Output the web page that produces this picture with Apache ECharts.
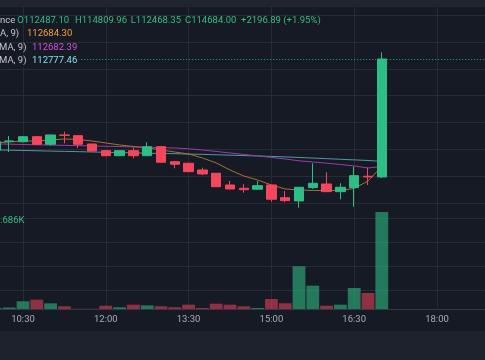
<!DOCTYPE html>
<html><head><meta charset="utf-8">
<script src="https://cdn.jsdelivr.net/npm/echarts@6/dist/echarts.min.js"></script>
<style>html,body{margin:0;padding:0;background:#161a25;overflow:hidden}#c{width:485px;height:360px}</style>
</head><body><div id="c"></div>
<script>
// ---- data (15-minute candles) ----
const times = ['10:00','10:15','10:30','10:45','11:00','11:15','11:30','11:45','12:00','12:15','12:30','12:45','13:00','13:15','13:30','13:45','14:00','14:15','14:30','14:45','15:00','15:15','15:30','15:45','16:00','16:15','16:30','16:45','17:00'];
// [open, close, low, high]
const ohlc = [
  [112990,113144,112975,113155],[113150,113157,112952,113250],[113144,113237,113130,113245],[113237,113096,113085,113245],
  [113096,113269,113070,113275],[113269,113262,113114,113330],[113256,113096,113027,113262],[113101,112971,112960,113105],
  [112977,112883,112875,112980],[112883,112977,112875,112985],[112977,112883,112835,113032],[112883,113051,112880,113133],
  [113051,112761,112755,113055],[112772,112723,112649,112775],[112742,112586,112580,112745],[112617,112543,112524,112660],
  [112556,112306,112300,112560],[112338,112263,112255,112412],[112276,112250,112194,112351],[112258,112325,112250,112412],
  [112338,112072,112027,112340],[112101,112046,112016,112226],[112040,112295,111915,112300],[112288,112369,112263,112742],
  [112356,112213,112205,112574],[112213,112295,112072,112369],[112288,112511,111934,112679],[112500,112487.11,112338,112660],
  [112487.10,114684.00,112468.35,114809.96]
];
const volumes = [17,26,134,162,99,47,4,4,57,30,75,63,47,30,75,17,92,75,47,17,174,99,742,405,57,75,365,278,1686];
const maOrange = [113120,113139,113157,113157,113176,113194,113185,113157,113120,113083,113055,113027,112990,112952,112915,112841,112748,112617,112505,112431,112338,112263,112245,112235,112235,112235,112273,112412,112684.30];
const maMagenta = [113103,113098,113092,113086,113081,113075,113070,113064,113058,113053,113047,113042,113034,113027,113012,112990,112962,112934,112906,112878,112850,112822,112788,112766,112744,112720,112692,112654,112682.39];
const maCyan = [112991,112986,112980,112975,112969,112964,112958,112952,112947,112941,112936,112930,112924,112921,112913,112908,112900,112893,112885,112878,112870,112861,112850,112839,112828,112816,112805,112794,112777.46];
const tickLabels = ['09:00','10:30','12:00','13:30','15:00','16:30','18:00','19:30'];
const volumeLabel = '.686K';

// ---- helpers ----
const toMin = s => { const p = s.split(':').map(Number); return p[0]*60 + p[1]; };
const fmt = v => { const h = Math.floor(v/60), m = v%60; return String(h).padStart(2,'0') + ':' + String(m).padStart(2,'0'); };
const UP = '#2ebd85', DOWN = '#f6465d';
const BG = '#161a25', GRID = '#272b36';
const xs = times.map(toMin);
const candleData = ohlc.map((d,i) => [xs[i], d[0], d[1], d[2], d[3]]);
const volData = volumes.map((v,i) => ({value:[xs[i], v], itemStyle:{color: ohlc[i][1] >= ohlc[i][0] ? 'rgba(46,189,133,0.58)' : 'rgba(246,70,93,0.55)'}}));
const line = arr => arr.map((v,i) => [xs[i], v]);
const last = ohlc[ohlc.length-1], prev = ohlc[ohlc.length-2];
const chg = last[1] - prev[1];
const pct = chg / prev[1] * 100;
const xMin = toMin(tickLabels[0]), xMax = toMin(tickLabels[tickLabels.length-1]);
const tickSet = new Set(tickLabels);

const L = -59.8, W = 579.6;
const xBase = (idx, extra) => Object.assign({gridIndex: idx, type:'value', min:xMin, max:xMax, interval:90,
  axisLine:{show:false}, axisTick:{show:false}, axisLabel:{show:false}, splitLine:{show:false}}, extra||{});

const font = '9.5px Roboto';
const txt = (x, y, text, fill, extra) => ({type:'text', x, y, z:100, style:Object.assign({text, fill, font, verticalAlign:'middle'}, extra||{})});
const G = o => Object.assign({left:L, width:W, outerBoundsMode:'none', containLabel:false}, o);

const chart = echarts.init(document.getElementById('c'), null, {renderer:'canvas'});
chart.setOption({
  backgroundColor: BG,
  animation: false,
  grid: [
    G({top:7, height:301}),
    G({top:15.2, height:187.9}),
    G({top:208, height:101}),
    G({top:218, height:72})
  ],
  xAxis: [
    xBase(0, {splitLine:{show:true, lineStyle:{color:GRID, width:1}},
      axisLabel:{show:true, color:'#a9acb5', fontSize:9.5, fontFamily:'Roboto', margin:7,
        formatter: v => { const s = fmt(v); return tickSet.has(s) ? s : ''; }}}),
    xBase(1),
    xBase(2, {position:'top', axisLine:{show:true, lineStyle:{color:'#343844', width:1}}}),
    xBase(3)
  ],
  yAxis: [
    {gridIndex:0, type:'value', min:0, max:1, show:false, splitLine:{show:false}},
    {gridIndex:1, type:'value', min:112000, max:115500, interval:500, axisLine:{show:false}, axisTick:{show:false}, axisLabel:{show:false},
      splitLine:{show:true, lineStyle:{color:GRID, width:1}}},
    {gridIndex:2, type:'value', min:0, max:1755, show:false, splitLine:{show:false}},
    {gridIndex:3, type:'value', min:0, max:3, interval:1, axisLine:{show:false}, axisTick:{show:false}, axisLabel:{show:false},
      splitLine:{show:true, lineStyle:{color:GRID, width:1}}}
  ],
  series: [
    {type:'line', xAxisIndex:3, yAxisIndex:3, data:[], silent:true},
    {type:'bar', xAxisIndex:2, yAxisIndex:2, data:volData, barWidth:12.8, silent:true},
    {type:'line', xAxisIndex:1, yAxisIndex:1, data:line(maCyan), showSymbol:false, symbol:'none', lineStyle:{color:'#4e9aa2', width:1}, silent:true, z:3},
    {type:'line', xAxisIndex:1, yAxisIndex:1, data:line(maMagenta), showSymbol:false, symbol:'none', lineStyle:{color:'#9b3ca6', width:1}, silent:true, z:3},
    {type:'line', xAxisIndex:1, yAxisIndex:1, data:line(maOrange), showSymbol:false, symbol:'none', lineStyle:{color:'#a9702e', width:1}, silent:true, z:3},
    {type:'candlestick', xAxisIndex:1, yAxisIndex:1, data:candleData, barWidth:10, clip:false, silent:true, z:4,
      encode:{x:0, y:[1,2,3,4]},
      itemStyle:{color:UP, color0:DOWN, borderColor:UP, borderColor0:DOWN, borderWidth:1},
      markLine:{silent:true, symbol:['none','none'], label:{show:false},
        lineStyle:{color:UP, type:[1,2], width:1, opacity:0.85},
        data:[{yAxis:last[1]}]}}
  ],
  graphic: [
    {type:'rect', z:90, shape:{x:0, y:0, width:485, height:7}, style:{fill:'#20242f'}},
    {type:'rect', z:90, shape:{x:0, y:331, width:485, height:29}, style:{fill:'#1e222d'}},
    {type:'rect', z:95, shape:{x:0, y:54, width:79, height:13}, style:{fill:BG}},
    txt(0, 20.5, 'nce', '#c3c6ce'),
    txt(17.3, 20.5, 'O' + last[0].toFixed(2), UP),
    txt(75, 20.5, 'H' + last[3].toFixed(2), UP),
    txt(130.7, 20.5, 'L' + last[2].toFixed(2), UP),
    txt(185, 20.5, 'C' + last[1].toFixed(2), UP),
    txt(241, 20.5, (chg>=0?'+':'') + chg.toFixed(2) + ' (' + (pct>=0?'+':'') + pct.toFixed(2) + '%)', UP),
    txt(0, 34, 'A, 9)', '#c3c6ce'),
    txt(27, 34, maOrange[maOrange.length-1].toFixed(2), '#f4a52b'),
    txt(-1, 47.5, 'MA, 9)', '#c3c6ce'),
    txt(32, 47.5, maMagenta[maMagenta.length-1].toFixed(2), '#d24fd8'),
    txt(-1, 61, 'MA, 9)', '#c3c6ce'),
    txt(32, 61, maCyan[maCyan.length-1].toFixed(2), '#7fe0e2'),
    txt(0, 221, volumeLabel, '#2ebd85')
  ]
});
</script></body></html>
